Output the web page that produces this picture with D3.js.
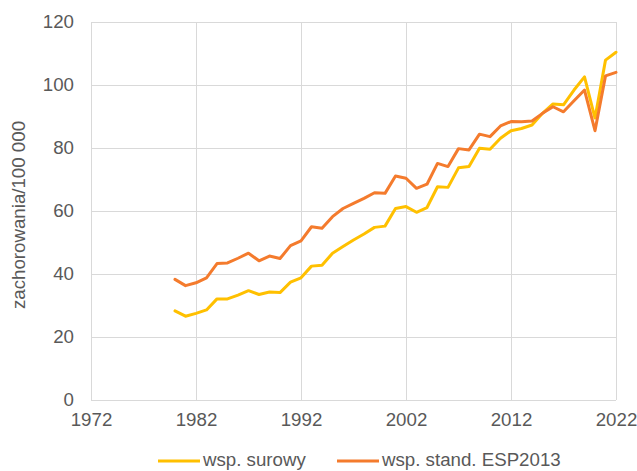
<!DOCTYPE html>
<html>
<head>
<meta charset="utf-8">
<script src="https://cdn.jsdelivr.net/npm/d3@7"></script>
<style>
  body { margin: 0; background: #fff; }
  svg text { font-family: "Liberation Sans", Arial, sans-serif; fill: #595959; }
</style>
</head>
<body>
<div id="chart"></div>
<script>
// years 1980-2022
const years = d3.range(1980, 2023);

const surowy = [
  28.3, 26.6, 27.5, 28.6, 32.1, 32.1, 33.3, 34.7, 33.5, 34.3,
  34.1, 37.4, 38.8, 42.5, 42.8, 46.6, 48.7, 50.8, 52.7, 54.8,
  55.2, 60.8, 61.4, 59.6, 61.1, 67.7, 67.5, 73.7, 74.1, 79.9,
  79.6, 83.1, 85.5, 86.2, 87.3, 91.0, 94.0, 93.7, 98.4, 102.6,
  89.5, 107.9, 110.4
];

const standESP2013 = [
  38.3, 36.3, 37.2, 38.8, 43.3, 43.5, 45.0, 46.6, 44.2, 45.7,
  44.9, 49.0, 50.5, 55.0, 54.5, 58.2, 60.8, 62.4, 64.0, 65.8,
  65.6, 71.1, 70.4, 67.2, 68.5, 75.1, 74.1, 79.8, 79.4, 84.4,
  83.6, 87.0, 88.4, 88.3, 88.6, 91.0, 93.1, 91.5, 95.0, 98.4,
  85.5, 102.9, 104.0
];

const xTicks = [1972, 1982, 1992, 2002, 2012, 2022];
const yTicks = [0, 20, 40, 60, 80, 100, 120];

const seriesNames = ["wsp. surowy", "wsp. stand. ESP2013"];
const seriesColors = ["#FFC000", "#F47B2D"];

const svgWidth = 637,
      svgHeight = 471,
      margin = { top: 22, right: 21, bottom: 71, left: 91 };

const width = svgWidth - margin.left - margin.right;
const height = svgHeight - margin.top - margin.bottom;
const fontSize = "18.7px";

const svg = d3.select("#chart")
  .append("svg")
  .attr("width", svgWidth)
  .attr("height", svgHeight);

const chartGroup = svg.append("g")
  .attr("transform", `translate(${margin.left}, ${margin.top})`);

const x = d3.scaleLinear().domain([1972, 2022]).range([0, width]);
const y = d3.scaleLinear().domain([0, 120]).range([height, 0]);

// gridlines
chartGroup.append("g")
  .selectAll("line")
  .data(yTicks)
  .enter()
  .append("line")
  .attr("x1", 0)
  .attr("x2", width)
  .attr("y1", d => y(d) + 0.5)
  .attr("y2", d => y(d) + 0.5)
  .attr("stroke", "#d9d9d9")
  .attr("stroke-width", 1);

chartGroup.append("g")
  .selectAll("line")
  .data(xTicks)
  .enter()
  .append("line")
  .attr("x1", d => Math.round(x(d)) + 0.5)
  .attr("x2", d => Math.round(x(d)) + 0.5)
  .attr("y1", 0)
  .attr("y2", height)
  .attr("stroke", "#d9d9d9")
  .attr("stroke-width", 1);

// axes (labels only)
const bottomAxis = d3.axisBottom(x).tickValues(xTicks).tickFormat(d3.format("d")).tickSize(0).tickPadding(13);
const leftAxis = d3.axisLeft(y).tickValues(yTicks).tickSize(0).tickPadding(17);

const xAxis = chartGroup.append("g")
  .attr("transform", `translate(0, ${height})`)
  .call(bottomAxis);
const yAxis = chartGroup.append("g").call(leftAxis);

[xAxis, yAxis].forEach(a => {
  a.select(".domain").remove();
  a.selectAll("text")
    .attr("font-size", fontSize)
    .attr("fill", "#595959")
    .style("font-family", "'Liberation Sans', Arial, sans-serif");
});

// y axis title
chartGroup.append("text")
  .attr("transform", "rotate(-90)")
  .attr("x", -193)
  .attr("y", -margin.left + 25)
  .attr("text-anchor", "middle")
  .attr("font-size", fontSize)
  .text("zachorowania/100 000");

// lines
const line = d3.line()
  .x((d, i) => x(years[i]))
  .y(d => y(d));

[surowy, standESP2013].forEach((s, i) => {
  chartGroup.append("path")
    .datum(s)
    .attr("fill", "none")
    .attr("stroke", seriesColors[i])
    .attr("stroke-width", 3)
    .attr("stroke-linejoin", "round")
    .attr("stroke-linecap", "round")
    .attr("d", line);
});

// legend
const legendItems = [
  { name: seriesNames[0], color: seriesColors[0], x: 158 },
  { name: seriesNames[1], color: seriesColors[1], x: 337 }
];

const legend = svg.append("g");
legendItems.forEach(item => {
  legend.append("line")
    .attr("x1", item.x)
    .attr("x2", item.x + 42)
    .attr("y1", 461)
    .attr("y2", 461)
    .attr("stroke", item.color)
    .attr("stroke-width", 3);
  legend.append("text")
    .attr("x", item.x + 45)
    .attr("y", 466)
    .attr("font-size", fontSize)
    .text(item.name);
});
</script>
</body>
</html>
